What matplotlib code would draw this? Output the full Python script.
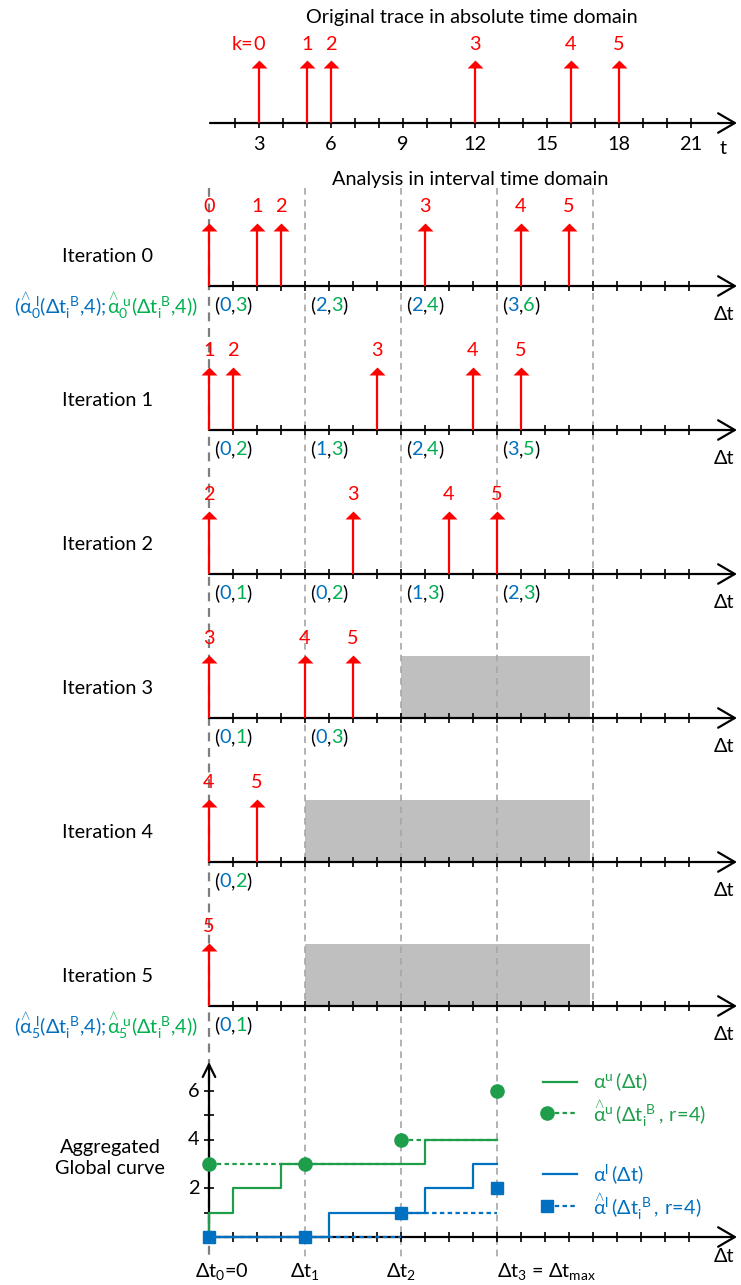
import numpy as np
import matplotlib
matplotlib.use("Agg")
import matplotlib.pyplot as plt
from matplotlib.path import Path

# ---------------- data ----------------
event_ids = [0, 1, 2, 3, 4, 5]
event_times = [3, 5, 6, 12, 16, 18]
abs_ticks = list(range(2, 22))
abs_tick_labels = [3, 6, 9, 12, 15, 18, 21]
window_starts = [0, 4, 8, 12]          # Δt_i^B
window_end = 16
iter_lower = [[0, 2, 2, 3], [0, 1, 2, 3], [0, 0, 1, 2], [0, 0], [0], [0]]
iter_upper = [[3, 3, 4, 6], [2, 3, 4, 5], [1, 2, 3, 3], [1, 3], [2], [1]]
gray_from = [None, None, None, 8, 4, 4]
alpha_u_x = [0, 0, 1, 3, 9, 12]
alpha_u_y = [0, 1, 2, 3, 4, 4]
alpha_l_x = [0, 5, 9, 11, 12]
alpha_l_y = [0, 1, 2, 3, 3]
hat_u = [3, 3, 4, 6]
hat_l = [0, 0, 1, 2]
agg_yticks = [1, 2, 3, 4, 5, 6]
agg_ylabels = [2, 4, 6]
interval_ticks = list(range(1, 21))

# ---------------- style / layout ----------------
W, H = 741, 1285
PXU = 24.0            # pixels per time unit
X0 = 209.0            # pixel x of Δt = 0
T0 = 187.0            # pixel x of t = 0
TOP_Y = 123
ITER_Y = [286, 430, 574, 718, 862, 1006]
AGG0 = 1237
AGG_PX = 24.33

RED = "#FF0000"
BLUE = "#0070C0"
GREEN_T = "#00B050"
GREEN = "#1E9E4A"
GRAYD = "#7F7F7F"
GRAYL = "#A6A6A6"
BOX = "#BFBFBF"
FS = 14.3

plt.rcParams["font.family"] = ["Lato", "DejaVu Sans"]
plt.rcParams["mathtext.fontset"] = "custom"
plt.rcParams["mathtext.rm"] = "Lato"
plt.rcParams["mathtext.it"] = "Lato"
plt.rcParams["mathtext.sf"] = "Lato"
plt.rcParams["mathtext.default"] = "rm"

fig = plt.figure(figsize=(W / 100, H / 100), dpi=100)


def overlay(xlim, ylim):
    a = fig.add_axes([0, 0, 1, 1])
    a.set_xlim(*xlim)
    a.set_ylim(*ylim)
    a.axis("off")
    a.patch.set_alpha(0)
    return a


ax = overlay((-X0 / PXU, (W - X0) / PXU), (H, 0))           # Δt vs pixel rows
axt = overlay((-T0 / PXU, (W - T0) / PXU), (H, 0))          # absolute t
axa = overlay((-X0 / PXU, (W - X0) / PXU),
              ((AGG0 - H) / AGG_PX, AGG0 / AGG_PX))          # Δt vs count

TRI = Path([(-1, 0), (1, 0), (0, 1), (-1, 0)],
           [Path.MOVETO, Path.LINETO, Path.LINETO, Path.CLOSEPOLY])

HAT = r"\overset{\wedge}{α}"


def stem(a, x, y):
    a.plot([x, x], [y, y - 56], color=RED, lw=1.6, solid_capstyle="butt", zorder=4)
    a.plot([x], [y - 55], marker=TRI, ms=11.5, color=RED, mew=0, zorder=4)


def haxis(a, x1, x2, y, ticks, tl):
    a.annotate("", xy=(x2, y), xytext=(x1, y),
               arrowprops=dict(arrowstyle="->,head_length=12,head_width=7",
                               mutation_scale=1, lw=1.6, color="black",
                               shrinkA=0, shrinkB=0), zorder=3)
    a.vlines(ticks, y - tl, y + tl, color="black", lw=1.2, zorder=3)


def chain(a, x, y, pieces, fs=FS):
    t = a.text(x, y, pieces[0][0], color=pieces[0][1], fontsize=fs,
               ha="left", va="center", zorder=6)
    for s, c in pieces[1:]:
        t = a.annotate(s, xy=(1, 0), xycoords=t, color=c, fontsize=fs,
                       ha="left", va="bottom", zorder=6)
    return t


# ---------------- titles ----------------
ax.text((472 - X0) / PXU, 17, "Original trace in absolute time domain",
        fontsize=FS, ha="center", va="center")
ax.text((470 - X0) / PXU, 180, "Analysis in interval time domain",
        fontsize=FS, ha="center", va="center")

# ---------------- top timeline ----------------
haxis(axt, (210 - T0) / PXU, (737 - T0) / PXU, TOP_Y, abs_ticks, 5)
for v in abs_tick_labels:
    axt.text(v, TOP_Y + 22, str(v), fontsize=FS, ha="center", va="center")
axt.text((723 - T0) / PXU, TOP_Y + 25, "t", fontsize=FS, ha="center", va="center")
for k, t in zip(event_ids, event_times):
    stem(axt, t, TOP_Y)
    lab = axt.text(t, TOP_Y - 79, str(k), color=RED, fontsize=FS,
                   ha="center", va="center")
    if k == 0:
        axt.annotate("k=", xy=(0, 0), xycoords=lab, color=RED, fontsize=FS,
                     ha="right", va="bottom")

# ---------------- dashed guide lines ----------------
for xb in window_starts + [window_end]:
    bottom = 1257 if xb != window_end else ITER_Y[-1]
    ax.vlines(xb, 188, bottom, colors=GRAYD if xb == 0 else GRAYL,
              lw=1.6 if xb == 0 else 1.2, linestyles=(0, (4, 3)), zorder=1)

# ---------------- iterations ----------------
for k, y in enumerate(ITER_Y):
    if gray_from[k] is not None:
        ax.fill_between([gray_from[k], window_end - 0.12], y - 62, y,
                        color=BOX, lw=0, zorder=0.5)
    haxis(ax, 0, 22, y, interval_ticks, 5)
    ax.text((724 - X0) / PXU, y + 29, "Δt", fontsize=FS, ha="center", va="center")
    ax.text((108 - X0) / PXU, y - 29, f"Iteration {k}", fontsize=FS,
            ha="center", va="center")
    for j in range(k, len(event_times)):
        d = event_times[j] - event_times[k]
        stem(ax, d, y)
        ax.text(d, y - 79, str(event_ids[j]), color=RED, fontsize=FS,
                ha="center", va="center", zorder=5)
    for w, (lo, hi) in enumerate(zip(iter_lower[k], iter_upper[k])):
        chain(ax, window_starts[w] + 0.2, y + 19,
              [("(", "black"), (str(lo), BLUE), (",", "black"),
               (str(hi), GREEN_T), (")", "black")])

# left annotations of the bounds
for k in (0, 5):
    y = ITER_Y[k] + 19
    g = ax.text((198 - X0) / PXU, y,
                r"$%s_{%d}^{\ u}(Δt_{i}^{\ B}{,}4))$" % (HAT, k),
                color=GREEN_T, fontsize=FS, ha="right", va="center")
    ax.annotate(r"$(%s_{%d}^{\ l}(Δt_{i}^{\ B}{,}4){;}$" % (HAT, k), xy=(0, 0),
                xycoords=g, color=BLUE, fontsize=FS, ha="right", va="bottom")

# ---------------- aggregated curve ----------------
haxis(axa, 0, 22, 0, interval_ticks, 5 / AGG_PX)
axa.annotate("", xy=(0, (AGG0 - 1062) / AGG_PX), xytext=(0, 0),
             arrowprops=dict(arrowstyle="->,head_length=9,head_width=4.5",
                             mutation_scale=1, lw=1.6, color="black",
                             shrinkA=0, shrinkB=0), zorder=3)
axa.hlines(agg_yticks, -5 / PXU, 5 / PXU, color="black", lw=1.2, zorder=3)
for v in agg_ylabels:
    axa.text((194 - X0) / PXU, v, str(v), fontsize=FS, ha="center", va="center")
ax.text((110 - X0) / PXU, 1158, "Aggregated\nGlobal curve", fontsize=FS,
        ha="center", va="center", linespacing=1.25)

axa.step(alpha_u_x, alpha_u_y, where="post", color=GREEN, lw=1.6, zorder=4)
axa.step(alpha_l_x, alpha_l_y, where="post", color=BLUE, lw=1.6, zorder=4)
axa.hlines(hat_u[:-1], window_starts[:-1], window_starts[1:], colors=GREEN,
           lw=1.6, linestyles=(0, (2, 1.5)), zorder=4)
axa.hlines(hat_l[:-1], window_starts[:-1], window_starts[1:], colors=BLUE,
           lw=1.6, linestyles=(0, (2, 1.5)), zorder=4)
axa.plot(window_starts, hat_u, "o", color=GREEN, ms=9.5, zorder=5)
axa.plot(window_starts, hat_l, "s", color=BLUE, ms=8.5, zorder=5)


# legend
def lx(px):
    return (px - X0) / PXU


ax.plot([lx(543), lx(577)], [1082, 1082], color=GREEN, lw=1.6)
ax.text(lx(593), 1082, r"$α^{u}\,(Δt)$", color=GREEN, fontsize=FS, va="center")
ax.plot([lx(547), lx(577)], [1113, 1113], color=GREEN, lw=1.6, ls=(0, (2, 1.5)))
ax.plot([lx(547)], [1113], "o", color=GREEN, ms=9.5)
ax.text(lx(593), 1113, r"$%s^{u}\,(Δt_{i}^{\ B}\,,\,r\!=\!4)$" % HAT, color=GREEN,
        fontsize=FS, va="center")
ax.plot([lx(543), lx(577)], [1174, 1174], color=BLUE, lw=1.6)
ax.text(lx(593), 1174, r"$α^{l}\,(Δt)$", color=BLUE, fontsize=FS, va="center")
ax.plot([lx(547), lx(577)], [1206, 1206], color=BLUE, lw=1.6, ls=(0, (2, 1.5)))
ax.plot([lx(547)], [1206], "s", color=BLUE, ms=8.5)
ax.text(lx(593), 1206, r"$%s^{l}\,(Δt_{i}^{\ B}\,,\,r\!=\!4)$" % HAT, color=BLUE,
        fontsize=FS, va="center")

# bottom labels
ax.text(lx(724), 1257, "Δt", fontsize=FS, ha="center", va="center")
ax.text(lx(195), 1272, r"$Δt_{0}$=0", fontsize=FS, ha="left", va="center")
ax.text(window_starts[1], 1272, r"$Δt_{1}$", fontsize=FS, ha="center", va="center")
ax.text(window_starts[2], 1272, r"$Δt_{2}$", fontsize=FS, ha="center", va="center")
ax.text(window_starts[3], 1272, r"$Δt_{3}$ = $Δt_{max}$", fontsize=FS,
        ha="left", va="center")

fig.savefig("out.png", dpi=100)
